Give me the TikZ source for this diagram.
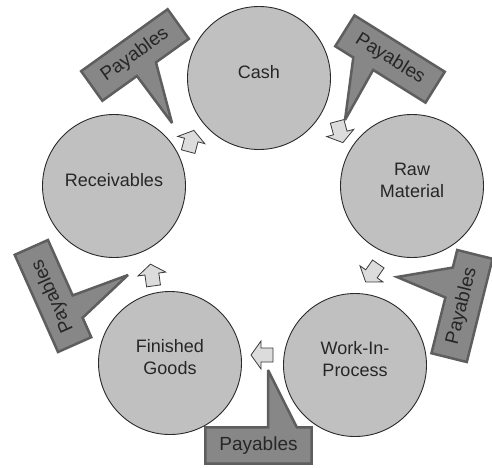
\documentclass[tikz,border=0pt]{standalone}
\usepackage{fontspec}
\setmainfont{Liberation Sans}
\usetikzlibrary{calc,backgrounds}
\definecolor{stagefill}{HTML}{C0C0C0}
\definecolor{stageline}{HTML}{2A2A2A}
\definecolor{calloutfill}{HTML}{878787}
\definecolor{calloutline}{HTML}{5E5E5E}
\definecolor{arrowfill}{HTML}{DCDCDC}
\definecolor{arrowline}{HTML}{3A3A3A}
\tikzset{
  stage/.style={circle, draw=stageline, line width=0.9pt, fill=stagefill,
    minimum size=143pt, inner sep=0pt},
  stagetext/.style={yshift=6pt, inner sep=0pt, align=center,
    font=\fontsize{18}{22}\selectfont, text=black!85},
  tag/.style={minimum width=106pt, minimum height=36pt, inner sep=0pt,
    font=\fontsize{19}{22}\selectfont, text=black!85},
  tagshape/.style={fill=calloutfill, draw=calloutline, line width=2.5pt,
    line join=miter, miter limit=4},
  cyclearrow/.pic={
    \draw[fill=arrowfill, draw=arrowline, line width=0.8pt, line join=miter]
      (-11,-7) -- (1,-7) -- (1,-14) -- (11,0) -- (1,14) -- (1,7) -- (-11,7) -- cycle;
  }
}
\begin{document}
\begin{tikzpicture}[x=1pt, y=-1pt]
\useasboundingbox (0,0) rectangle (492,467);

% the five stages of the cycle
\node[stage] (cash) at (259,78)  {};
\node[stage] (raw)  at (412,186) {};
\node[stage] (wip)  at (355,365) {};
\node[stage] (fg)   at (170,363) {};
\node[stage] (recv) at (114,186) {};
\node[stagetext] (cashtext) at (cash) {Cash};
\node[stagetext] (rawtext)  at (raw)  {Raw\\Material};
\node[stagetext] (wiptext)  at (wip)  {Work-In-\\Process};
\node[stagetext] (fgtext)   at (fg)   {Finished\\Goods};
\node[stagetext] (recvtext) at (recv) {Receivables};

% flow arrows between the stages
\pic[rotate=75]   at (191,141) {cyclearrow};
\pic[rotate=-75]  at (340,132) {cyclearrow};
\pic[rotate=-125] at (372,273) {cyclearrow};
\pic[rotate=180]  at (262,355) {cyclearrow};
\pic[rotate=98]   at (152,275) {cyclearrow};

% payables callouts
\node[tag, rotate=35.6] (p1) at (135,55)    {Payables};
\node[tag, rotate=-32]  (p2) at (390,59)    {Payables};
\node[tag, rotate=114]  (p3) at (53,296)    {Payables};
\node[tag, rotate=76]   (p4) at (462,306)   {Payables};
\node[tag]              (p5) at (258.5,445.5) {Payables};

\coordinate (tip1) at (172,123);
\coordinate (tip2) at (345,120);
\coordinate (tip3) at (128,275);
\coordinate (tip4) at (397,277);
\coordinate (tip5) at (268,370);

\begin{scope}[on background layer]
  \draw[tagshape] (p1.north west) -- (p1.north east) -- (p1.south east)
    -- ($(p1.south west)!0.62!(p1.south east)$) -- (tip1)
    -- ($(p1.south west)!0.40!(p1.south east)$) -- (p1.south west) -- cycle;
  \draw[tagshape] (p2.north west) -- (p2.north east) -- (p2.south east)
    -- ($(p2.south west)!0.42!(p2.south east)$) -- (tip2)
    -- ($(p2.south west)!0.20!(p2.south east)$) -- (p2.south west) -- cycle;
  \draw[tagshape] (p3.north west) -- (p3.north east) -- (p3.south east)
    -- ($(p3.south west)!0.43!(p3.south east)$) -- (tip3)
    -- ($(p3.south west)!0.20!(p3.south east)$) -- (p3.south west) -- cycle;
  \draw[tagshape] (p4.south west) -- (p4.south east) -- (p4.north east)
    -- ($(p4.north west)!0.83!(p4.north east)$) -- (tip4)
    -- ($(p4.north west)!0.54!(p4.north east)$) -- (p4.north west) -- cycle;
  \draw[tagshape] (p5.south west) -- (p5.south east) -- (p5.north east)
    -- ($(p5.north west)!0.86!(p5.north east)$) -- (tip5)
    -- ($(p5.north west)!0.59!(p5.north east)$) -- (p5.north west) -- cycle;
\end{scope}
\end{tikzpicture}
\end{document}
